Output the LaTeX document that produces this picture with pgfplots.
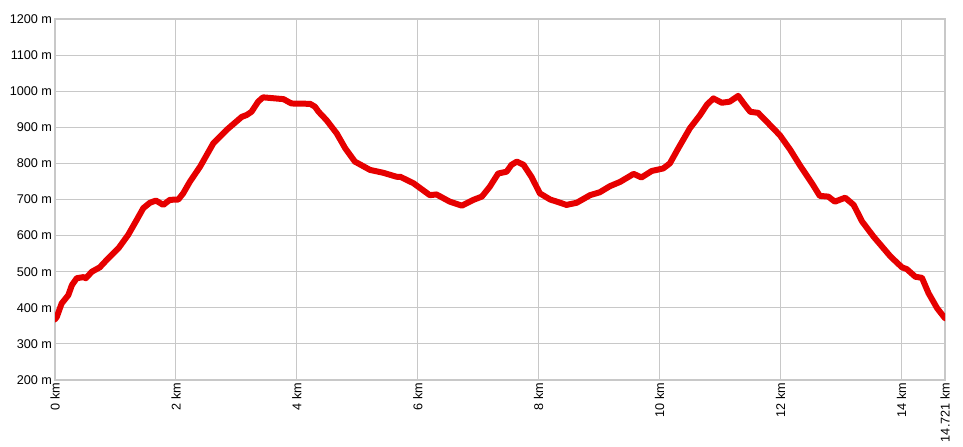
\documentclass[border=0pt]{standalone}
\usepackage{fontspec}
\setmainfont{Liberation Sans}
\usepackage{pgfplots}
\pgfplotsset{compat=1.18}

\definecolor{trackred}{RGB}{230,0,0}
\definecolor{gridgray}{RGB}{200,200,200}

\begin{document}
\begin{tikzpicture}
\begin{axis}[
  name=ax,
  scale only axis,
  width=667.5pt, height=270.75pt,
  xmin=0, xmax=14.721,
  ymin=200, ymax=1200,
  xtick={0,2,4,6,8,10,12,14,14.721},
  xticklabels={0 km,2 km,4 km,6 km,8 km,10 km,12 km,14 km,14.721 km},
  ytick={200,300,...,1200},
  yticklabels={200 m,300 m,400 m,500 m,600 m,700 m,800 m,900 m,1000 m,1100 m,1200 m},
  xticklabel style={rotate=90, anchor=east, inner sep=2pt, font=\fontsize{9.5}{11}\selectfont},
  yticklabel style={inner sep=2pt, font=\fontsize{9.5}{11}\selectfont},
  major tick length=0pt,
  grid=major,
  grid style={gridgray, line width=0.8pt},
  axis line style={gridgray, line width=0.8pt},
  clip=true,
]
\addplot[trackred, line width=4.5pt, line join=round, line cap=round] coordinates {
(0.00,368) (0.03,375) (0.11,412) (0.22,435) (0.28,463) (0.36,482) (0.47,485)
(0.51,482) (0.61,500) (0.74,512) (0.88,537) (1.05,565) (1.21,602) (1.35,643)
(1.46,676) (1.57,691) (1.67,697) (1.79,685) (1.90,699) (2.04,700) (2.12,717)
(2.23,749) (2.40,791) (2.62,856) (2.84,893) (3.09,929) (3.17,934) (3.25,943)
(3.36,971) (3.44,983) (3.78,978) (3.91,966) (4.22,965) (4.30,957) (4.36,943)
(4.49,920) (4.66,883) (4.80,842) (4.96,805) (5.21,782) (5.43,774) (5.65,763)
(5.71,763) (5.93,745) (6.20,712) (6.31,714) (6.53,694) (6.73,683) (6.92,699)
(7.06,708) (7.19,735) (7.33,772) (7.47,777) (7.55,796) (7.64,805) (7.75,796)
(7.88,763) (8.02,717) (8.19,700) (8.30,694) (8.46,685) (8.63,691) (8.85,712)
(9.01,720) (9.18,737) (9.35,749) (9.57,771) (9.70,761) (9.87,779) (10.06,786)
(10.17,800) (10.31,842) (10.50,897) (10.67,934) (10.78,962) (10.89,980)
(11.03,968) (11.16,971) (11.30,987) (11.41,962) (11.50,943) (11.63,940)
(11.77,916) (11.99,878) (12.16,838) (12.32,795) (12.52,745) (12.65,710)
(12.79,708) (12.90,694) (13.07,705) (13.21,685) (13.35,639) (13.54,597)
(13.82,542) (14.01,512) (14.09,507) (14.23,486) (14.34,483) (14.45,440)
(14.59,399) (14.721,371)
};
\end{axis}
\pgfresetboundingbox
\path[use as bounding box] ([xshift=-41.25pt,yshift=-49.5pt]ax.south west) rectangle ([xshift=13.5pt,yshift=14.25pt]ax.north east);
\end{tikzpicture}
\end{document}
